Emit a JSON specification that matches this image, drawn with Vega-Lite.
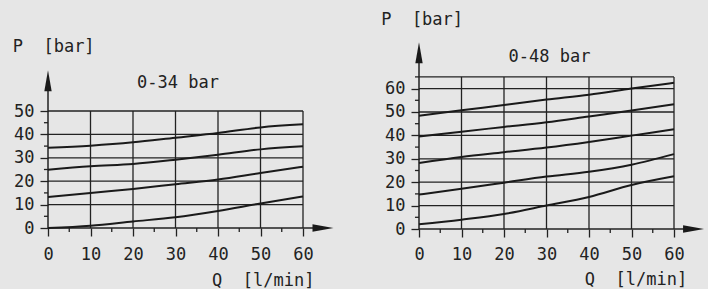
{
  "$schema": "https://vega.github.io/schema/vega-lite/v6.json",
  "background": "#e6e6e6",
  "padding": {"left": 12, "top": 0, "right": 0, "bottom": 4},
  "spacing": 43,
  "config": {
    "view": {"stroke": null},
    "font": "DejaVu Sans Mono",
    "text": {"font": "DejaVu Sans Mono", "fontSize": 17, "color": "#222222"},
    "rule": {"color": "#222222", "strokeWidth": 1.3},
    "line": {"color": "#1a1a1a", "strokeWidth": 2, "interpolate": "monotone"},
    "axis": {
      "domain": false, "grid": false, "title": null,
      "labelFont": "DejaVu Sans Mono", "labelFontSize": 17, "labelColor": "#222222",
      "ticks": true, "tickSize": 8, "tickColor": "#222222", "tickWidth": 1.3,
      "labelOverlap": false, "labelFlush": false
    },
    "axisY": {"labelPadding": 6},
    "axisX": {"labelPadding": 10}
  },
  "datasets": {
    "left": [
      {"curve": "a", "q": 0, "p": 34.3}, {"curve": "a", "q": 10, "p": 35.2}, {"curve": "a", "q": 20, "p": 36.6}, {"curve": "a", "q": 30, "p": 38.6}, {"curve": "a", "q": 40, "p": 40.6}, {"curve": "a", "q": 50, "p": 43.0}, {"curve": "a", "q": 60, "p": 44.3},
      {"curve": "b", "q": 0, "p": 24.9}, {"curve": "b", "q": 10, "p": 26.4}, {"curve": "b", "q": 20, "p": 27.4}, {"curve": "b", "q": 30, "p": 29.2}, {"curve": "b", "q": 40, "p": 31.3}, {"curve": "b", "q": 50, "p": 33.6}, {"curve": "b", "q": 60, "p": 34.9},
      {"curve": "c", "q": 0, "p": 13.2}, {"curve": "c", "q": 10, "p": 15.0}, {"curve": "c", "q": 20, "p": 16.7}, {"curve": "c", "q": 30, "p": 18.7}, {"curve": "c", "q": 40, "p": 20.7}, {"curve": "c", "q": 50, "p": 23.5}, {"curve": "c", "q": 60, "p": 26.2},
      {"curve": "d", "q": 0, "p": 0.0}, {"curve": "d", "q": 10, "p": 1.0}, {"curve": "d", "q": 20, "p": 2.8}, {"curve": "d", "q": 30, "p": 4.6}, {"curve": "d", "q": 40, "p": 7.3}, {"curve": "d", "q": 50, "p": 10.5}, {"curve": "d", "q": 60, "p": 13.5}
    ],
    "right": [
      {"curve": "a", "q": 0, "p": 48.4}, {"curve": "a", "q": 10, "p": 50.7}, {"curve": "a", "q": 20, "p": 53.0}, {"curve": "a", "q": 30, "p": 55.3}, {"curve": "a", "q": 40, "p": 57.4}, {"curve": "a", "q": 50, "p": 60.0}, {"curve": "a", "q": 60, "p": 62.5},
      {"curve": "b", "q": 0, "p": 39.5}, {"curve": "b", "q": 10, "p": 41.6}, {"curve": "b", "q": 20, "p": 43.6}, {"curve": "b", "q": 30, "p": 45.6}, {"curve": "b", "q": 40, "p": 48.1}, {"curve": "b", "q": 50, "p": 50.6}, {"curve": "b", "q": 60, "p": 53.3},
      {"curve": "c", "q": 0, "p": 28.2}, {"curve": "c", "q": 10, "p": 30.8}, {"curve": "c", "q": 20, "p": 32.8}, {"curve": "c", "q": 30, "p": 34.8}, {"curve": "c", "q": 40, "p": 37.2}, {"curve": "c", "q": 50, "p": 39.9}, {"curve": "c", "q": 60, "p": 42.6},
      {"curve": "d", "q": 0, "p": 14.7}, {"curve": "d", "q": 10, "p": 17.2}, {"curve": "d", "q": 20, "p": 19.8}, {"curve": "d", "q": 30, "p": 22.4}, {"curve": "d", "q": 40, "p": 24.5}, {"curve": "d", "q": 50, "p": 27.5}, {"curve": "d", "q": 60, "p": 32.0},
      {"curve": "e", "q": 0, "p": 2.0}, {"curve": "e", "q": 10, "p": 4.0}, {"curve": "e", "q": 20, "p": 6.4}, {"curve": "e", "q": 30, "p": 10.0}, {"curve": "e", "q": 40, "p": 13.7}, {"curve": "e", "q": 50, "p": 18.8}, {"curve": "e", "q": 60, "p": 22.5}
    ],
    "gridQ": [{"q": 10}, {"q": 20}, {"q": 30}, {"q": 40}, {"q": 50}, {"q": 60}],
    "gridPL": [{"p": 10}, {"p": 20}, {"p": 30}, {"p": 40}, {"p": 50}],
    "gridPR": [{"p": 10}, {"p": 20}, {"p": 30}, {"p": 40}, {"p": 50}, {"p": 60}, {"p": 65}],
    "minorQ": [{"q": 5}, {"q": 15}, {"q": 25}, {"q": 35}, {"q": 45}, {"q": 55}],
    "minorPL": [{"p": 5}, {"p": 15}, {"p": 25}, {"p": 35}, {"p": 45}],
    "minorPR": [{"p": 5}, {"p": 15}, {"p": 25}, {"p": 35}, {"p": 45}, {"p": 55}, {"p": 65}],
    "one": [{}]
  },
  "hconcat": [
    {
      "width": 290,
      "height": 228,
      "layer": [
        {
          "data": {"name": "gridPL"},
          "mark": "rule",
          "encoding": {
            "y": {"field": "p", "type": "quantitative",
              "scale": {"domain": [0, 97.44], "nice": false, "zero": false},
              "axis": {"values": [0, 10, 20, 30, 40, 50], "title": null}},
            "x": {"datum": 0, "type": "quantitative",
              "scale": {"domain": [0, 68.235], "nice": false, "zero": false},
              "axis": {"values": [0, 10, 20, 30, 40, 50, 60], "title": null}},
            "x2": {"datum": 60}
          }
        },
        {
          "data": {"name": "gridQ"},
          "mark": "rule",
          "encoding": {
            "x": {"field": "q", "type": "quantitative", "axis": {"values": [0, 10, 20, 30, 40, 50, 60], "title": null}},
            "y": {"datum": 0, "type": "quantitative", "axis": {"values": [0, 10, 20, 30, 40, 50], "title": null}},
            "y2": {"datum": 50}
          }
        },
        {
          "data": {"name": "minorQ"},
          "mark": "rule",
          "encoding": {
            "x": {"field": "q", "type": "quantitative", "axis": {"values": [0, 10, 20, 30, 40, 50, 60], "title": null}},
            "y": {"datum": 0, "type": "quantitative", "axis": {"values": [0, 10, 20, 30, 40, 50], "title": null}},
            "y2": {"datum": -1.75}
          }
        },
        {
          "data": {"name": "minorPL"},
          "mark": "rule",
          "encoding": {
            "y": {"field": "p", "type": "quantitative", "axis": {"values": [0, 10, 20, 30, 40, 50], "title": null}},
            "x": {"datum": 0, "type": "quantitative", "axis": {"values": [0, 10, 20, 30, 40, 50, 60], "title": null}},
            "x2": {"datum": -0.95}
          }
        },
        {
          "data": {"name": "one"},
          "mark": {"type": "rule", "strokeWidth": 1.5},
          "encoding": {
            "x": {"datum": 0, "type": "quantitative", "axis": {"values": [0, 10, 20, 30, 40, 50, 60], "title": null}},
            "y": {"datum": 0, "type": "quantitative", "axis": {"values": [0, 10, 20, 30, 40, 50], "title": null}},
            "y2": {"datum": 62.9}
          }
        },
        {
          "data": {"name": "one"},
          "mark": {"type": "rule", "strokeWidth": 1.5},
          "encoding": {
            "y": {"datum": 0, "type": "quantitative", "axis": {"values": [0, 10, 20, 30, 40, 50], "title": null}},
            "x": {"datum": 0, "type": "quantitative", "axis": {"values": [0, 10, 20, 30, 40, 50, 60], "title": null}},
            "x2": {"datum": 64.7}
          }
        },
        {
          "data": {"name": "one"},
          "mark": {"type": "point", "filled": true, "opacity": 1, "color": "#1a1a1a", "size": 441, "shape": "M0,-1L0.35,1L-0.35,1Z"},
          "encoding": {
            "x": {"datum": 0, "type": "quantitative", "axis": {"values": [0, 10, 20, 30, 40, 50, 60], "title": null}},
            "y": {"datum": 62.9, "type": "quantitative", "axis": {"values": [0, 10, 20, 30, 40, 50], "title": null}}
          }
        },
        {
          "data": {"name": "one"},
          "mark": {"type": "point", "filled": true, "opacity": 1, "color": "#1a1a1a", "size": 441, "shape": "M1,0L-1,0.35L-1,-0.35Z"},
          "encoding": {
            "x": {"datum": 64.7, "type": "quantitative", "axis": {"values": [0, 10, 20, 30, 40, 50, 60], "title": null}},
            "y": {"datum": 0, "type": "quantitative", "axis": {"values": [0, 10, 20, 30, 40, 50], "title": null}}
          }
        },
        {
          "data": {"name": "left"},
          "mark": "line",
          "encoding": {
            "x": {"field": "q", "type": "quantitative", "axis": {"values": [0, 10, 20, 30, 40, 50, 60], "title": null}},
            "y": {"field": "p", "type": "quantitative", "axis": {"values": [0, 10, 20, 30, 40, 50], "title": null}},
            "detail": {"field": "curve"}
          }
        },
        {
          "data": {"name": "one"},
          "mark": {"type": "text", "align": "left", "baseline": "middle", "text": "P\u00a0\u00a0[bar]"},
          "encoding": {
            "x": {"datum": -8.3, "type": "quantitative", "axis": {"values": [0, 10, 20, 30, 40, 50, 60], "title": null}},
            "y": {"datum": 77.2, "type": "quantitative", "axis": {"values": [0, 10, 20, 30, 40, 50], "title": null}}
          }
        },
        {
          "data": {"name": "one"},
          "mark": {"type": "text", "align": "center", "baseline": "middle", "text": "0-34 bar"},
          "encoding": {
            "x": {"datum": 30.6, "type": "quantitative", "axis": {"values": [0, 10, 20, 30, 40, 50, 60], "title": null}},
            "y": {"datum": 61.8, "type": "quantitative", "axis": {"values": [0, 10, 20, 30, 40, 50], "title": null}}
          }
        },
        {
          "data": {"name": "one"},
          "mark": {"type": "text", "align": "right", "baseline": "middle", "text": "Q\u00a0\u00a0[l/min]"},
          "encoding": {
            "x": {"datum": 62.7, "type": "quantitative", "axis": {"values": [0, 10, 20, 30, 40, 50, 60], "title": null}},
            "y": {"datum": -22.6, "type": "quantitative", "axis": {"values": [0, 10, 20, 30, 40, 50], "title": null}}
          }
        }
      ]
    },
    {
      "width": 289,
      "height": 229,
      "layer": [
        {
          "data": {"name": "gridPR"},
          "mark": "rule",
          "encoding": {
            "y": {"field": "p", "type": "quantitative",
              "scale": {"domain": [0, 97.86], "nice": false, "zero": false},
              "axis": {"values": [0, 10, 20, 30, 40, 50, 60], "title": null}},
            "x": {"datum": 0, "type": "quantitative",
              "scale": {"domain": [0, 68.0], "nice": false, "zero": false},
              "axis": {"values": [0, 10, 20, 30, 40, 50, 60], "title": null, "labelPadding": 9}},
            "x2": {"datum": 60}
          }
        },
        {
          "data": {"name": "gridQ"},
          "mark": "rule",
          "encoding": {
            "x": {"field": "q", "type": "quantitative", "axis": {"values": [0, 10, 20, 30, 40, 50, 60], "title": null, "labelPadding": 9}},
            "y": {"datum": 0, "type": "quantitative", "axis": {"values": [0, 10, 20, 30, 40, 50, 60], "title": null}},
            "y2": {"datum": 65}
          }
        },
        {
          "data": {"name": "minorQ"},
          "mark": "rule",
          "encoding": {
            "x": {"field": "q", "type": "quantitative", "axis": {"values": [0, 10, 20, 30, 40, 50, 60], "title": null, "labelPadding": 9}},
            "y": {"datum": 0, "type": "quantitative", "axis": {"values": [0, 10, 20, 30, 40, 50, 60], "title": null}},
            "y2": {"datum": -1.75}
          }
        },
        {
          "data": {"name": "minorPR"},
          "mark": "rule",
          "encoding": {
            "y": {"field": "p", "type": "quantitative", "axis": {"values": [0, 10, 20, 30, 40, 50, 60], "title": null}},
            "x": {"datum": 0, "type": "quantitative", "axis": {"values": [0, 10, 20, 30, 40, 50, 60], "title": null, "labelPadding": 9}},
            "x2": {"datum": -0.95}
          }
        },
        {
          "data": {"name": "one"},
          "mark": {"type": "rule", "strokeWidth": 1.5},
          "encoding": {
            "x": {"datum": 0, "type": "quantitative", "axis": {"values": [0, 10, 20, 30, 40, 50, 60], "title": null, "labelPadding": 9}},
            "y": {"datum": 0, "type": "quantitative", "axis": {"values": [0, 10, 20, 30, 40, 50, 60], "title": null}},
            "y2": {"datum": 75.3}
          }
        },
        {
          "data": {"name": "one"},
          "mark": {"type": "rule", "strokeWidth": 1.5},
          "encoding": {
            "y": {"datum": 0, "type": "quantitative", "axis": {"values": [0, 10, 20, 30, 40, 50, 60], "title": null}},
            "x": {"datum": 0, "type": "quantitative", "axis": {"values": [0, 10, 20, 30, 40, 50, 60], "title": null, "labelPadding": 9}},
            "x2": {"datum": 64.6}
          }
        },
        {
          "data": {"name": "one"},
          "mark": {"type": "point", "filled": true, "opacity": 1, "color": "#1a1a1a", "size": 441, "shape": "M0,-1L0.35,1L-0.35,1Z"},
          "encoding": {
            "x": {"datum": 0, "type": "quantitative", "axis": {"values": [0, 10, 20, 30, 40, 50, 60], "title": null, "labelPadding": 9}},
            "y": {"datum": 75.3, "type": "quantitative", "axis": {"values": [0, 10, 20, 30, 40, 50, 60], "title": null}}
          }
        },
        {
          "data": {"name": "one"},
          "mark": {"type": "point", "filled": true, "opacity": 1, "color": "#1a1a1a", "size": 441, "shape": "M1,0L-1,0.35L-1,-0.35Z"},
          "encoding": {
            "x": {"datum": 64.6, "type": "quantitative", "axis": {"values": [0, 10, 20, 30, 40, 50, 60], "title": null, "labelPadding": 9}},
            "y": {"datum": 0, "type": "quantitative", "axis": {"values": [0, 10, 20, 30, 40, 50, 60], "title": null}}
          }
        },
        {
          "data": {"name": "right"},
          "mark": "line",
          "encoding": {
            "x": {"field": "q", "type": "quantitative", "axis": {"values": [0, 10, 20, 30, 40, 50, 60], "title": null, "labelPadding": 9}},
            "y": {"field": "p", "type": "quantitative", "axis": {"values": [0, 10, 20, 30, 40, 50, 60], "title": null}},
            "detail": {"field": "curve"}
          }
        },
        {
          "data": {"name": "one"},
          "mark": {"type": "text", "align": "left", "baseline": "middle", "text": "P\u00a0\u00a0[bar]"},
          "encoding": {
            "x": {"datum": -8.9, "type": "quantitative", "axis": {"values": [0, 10, 20, 30, 40, 50, 60], "title": null, "labelPadding": 9}},
            "y": {"datum": 89.4, "type": "quantitative", "axis": {"values": [0, 10, 20, 30, 40, 50, 60], "title": null}}
          }
        },
        {
          "data": {"name": "one"},
          "mark": {"type": "text", "align": "center", "baseline": "middle", "text": "0-48 bar"},
          "encoding": {
            "x": {"datum": 30.7, "type": "quantitative", "axis": {"values": [0, 10, 20, 30, 40, 50, 60], "title": null, "labelPadding": 9}},
            "y": {"datum": 73.6, "type": "quantitative", "axis": {"values": [0, 10, 20, 30, 40, 50, 60], "title": null}}
          }
        },
        {
          "data": {"name": "one"},
          "mark": {"type": "text", "align": "right", "baseline": "middle", "text": "Q\u00a0\u00a0[l/min]"},
          "encoding": {
            "x": {"datum": 63.1, "type": "quantitative", "axis": {"values": [0, 10, 20, 30, 40, 50, 60], "title": null, "labelPadding": 9}},
            "y": {"datum": -21.8, "type": "quantitative", "axis": {"values": [0, 10, 20, 30, 40, 50, 60], "title": null}}
          }
        }
      ]
    }
  ]
}
